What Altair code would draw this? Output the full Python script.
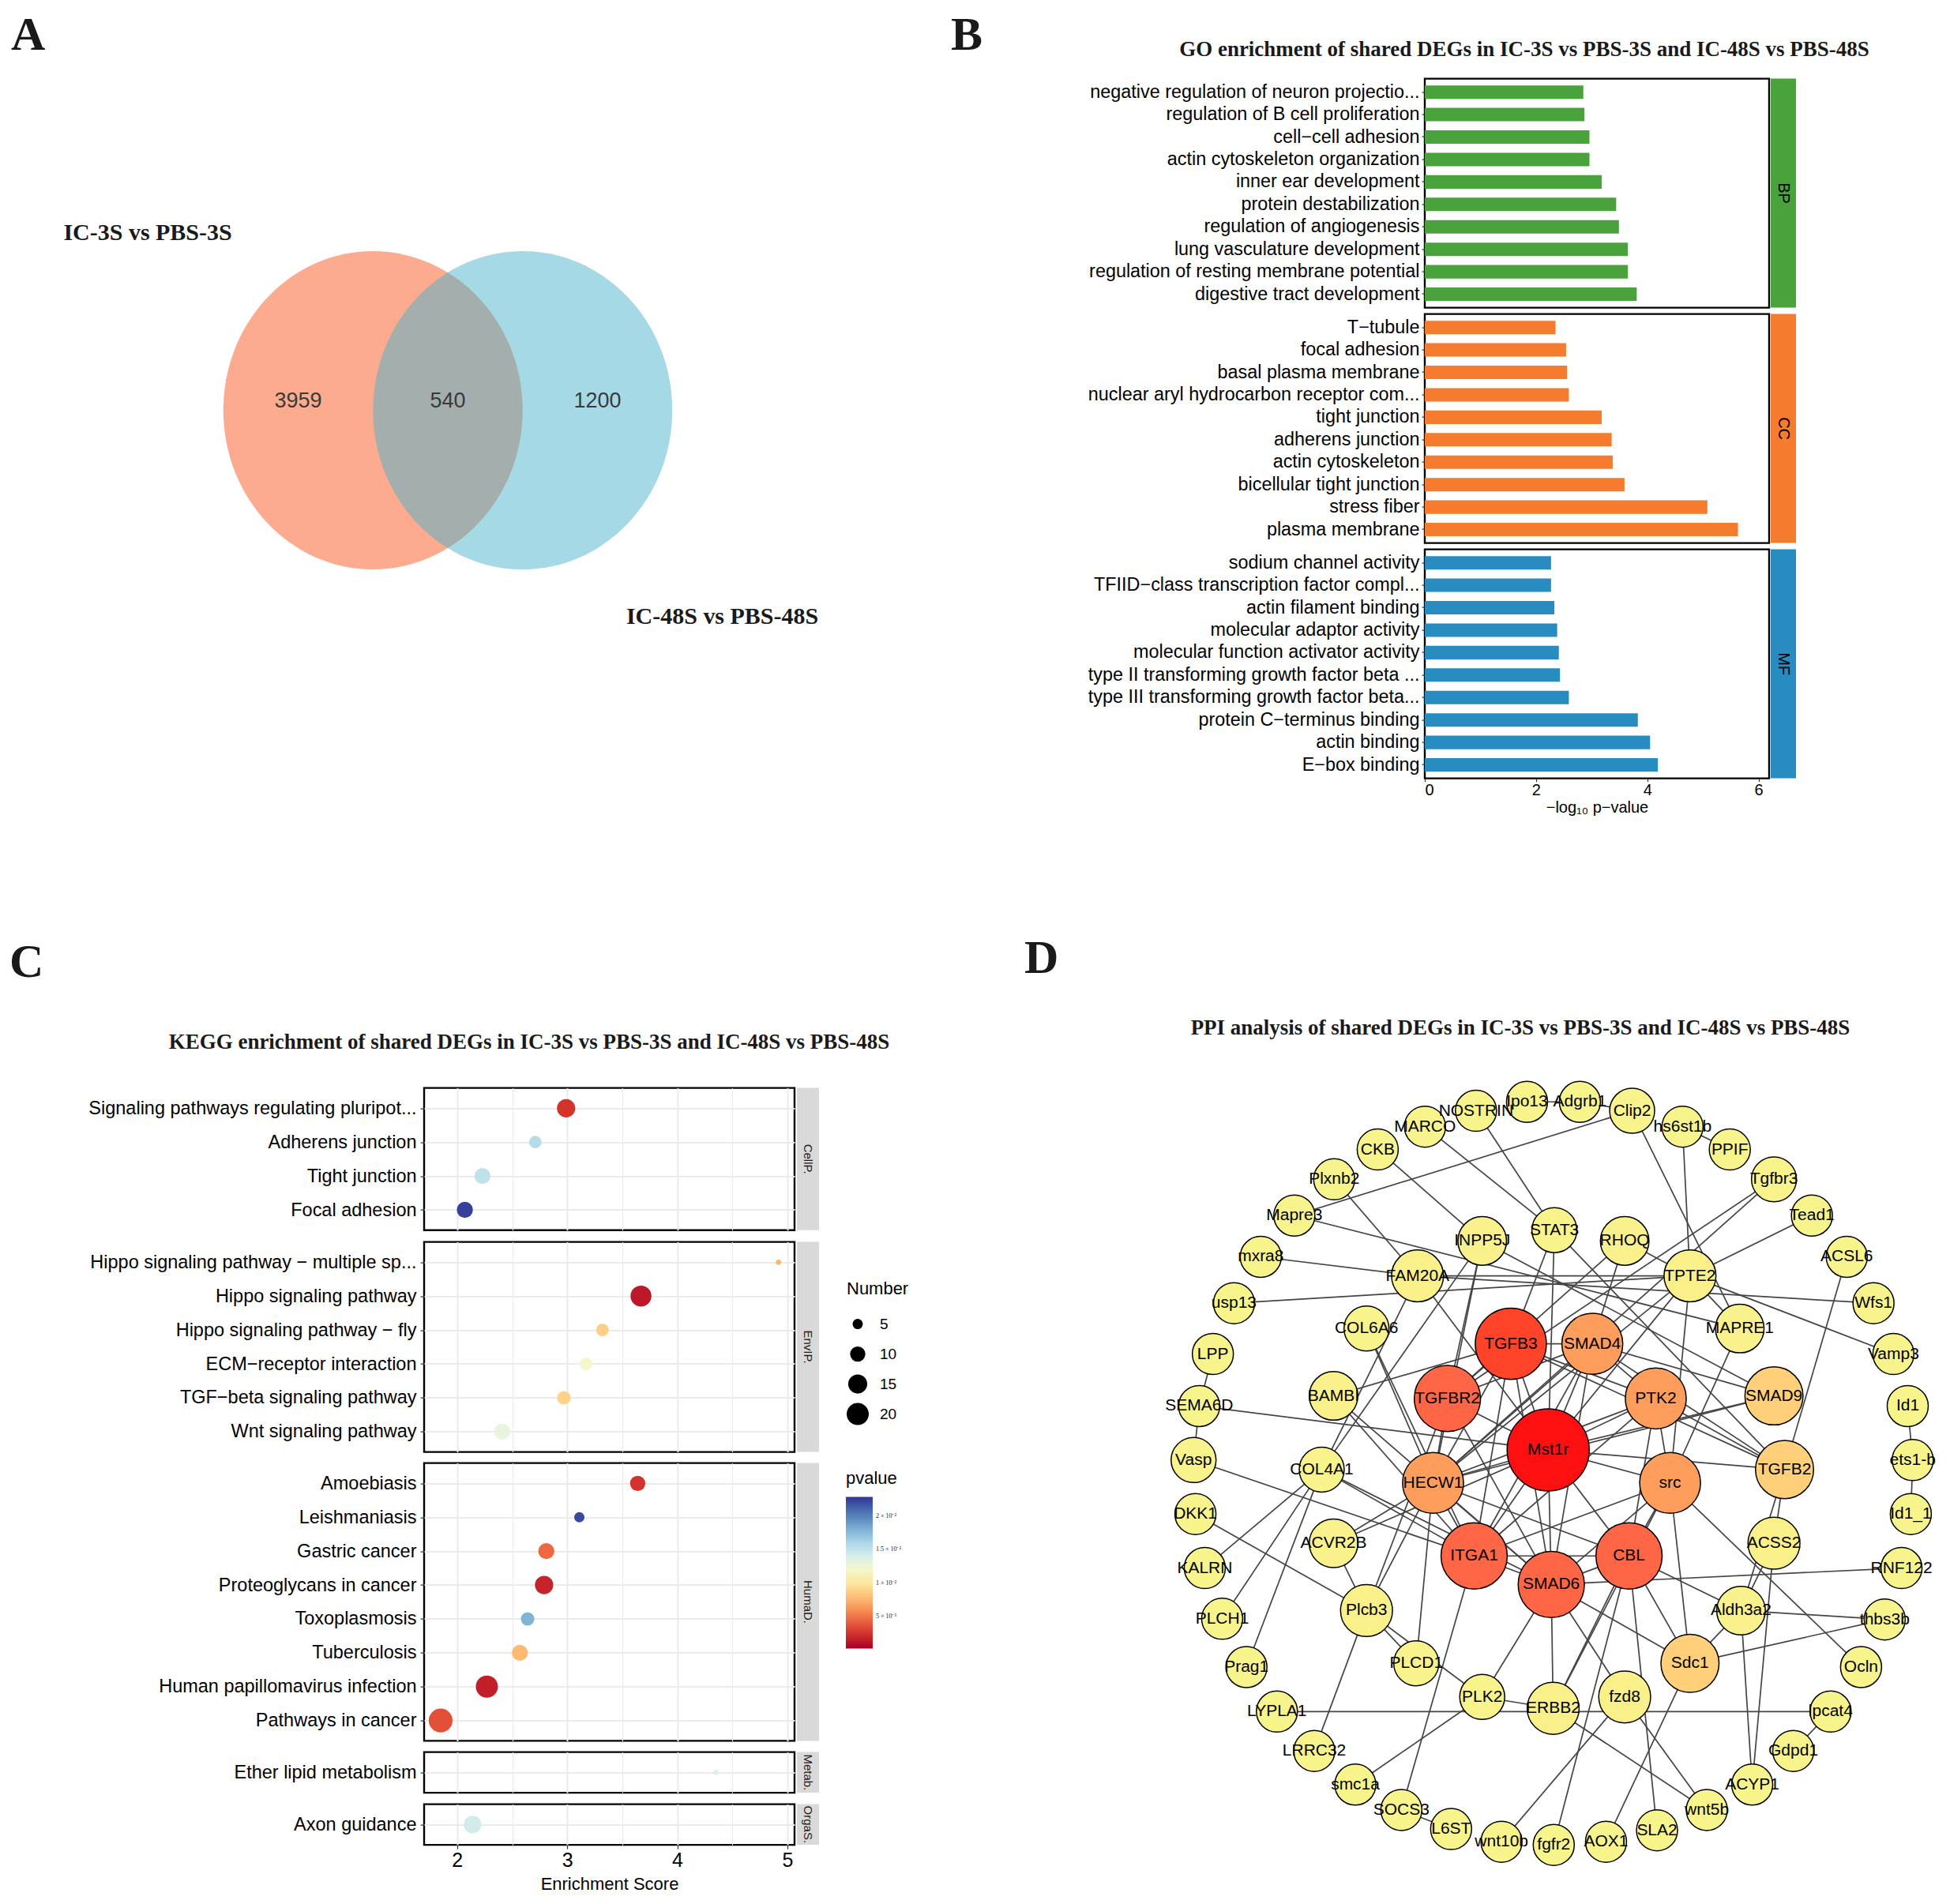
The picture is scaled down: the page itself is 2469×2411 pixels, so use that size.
import altair as alt
import pandas as pd

SANS = "Liberation Sans"
SERIF = "Liberation Serif"
INK = "#1a1a1a"

# ============================ DATA ============================
# ---- Panel A : Venn diagram
venn_sets = ["IC-3S vs PBS-3S", "IC-48S vs PBS-48S"]
venn_counts = [3959, 540, 1200]            # left only, shared, right only
# Venn geometry in ellipse-radius units
venn_cx = [-0.5, 0.5]
venn_cy = [0.0, 0.0]
venn_count_x = [-1.0, 0.0, 1.0]
venn_count_y = [0.06, 0.06, 0.06]
venn_label_x = [-2.005, 1.834]
venn_label_y = [1.117, -1.295]

# ---- Panel B : GO enrichment (-log10 p)
go_bp_terms = ["negative regulation of neuron projectio...", "regulation of B cell proliferation",
               "cell\u2212cell adhesion", "actin cytoskeleton organization", "inner ear development",
               "protein destabilization", "regulation of angiogenesis", "lung vasculature development",
               "regulation of resting membrane potential", "digestive tract development"]
go_bp_values = [2.85, 2.87, 2.96, 2.96, 3.18, 3.44, 3.49, 3.65, 3.65, 3.81]
go_cc_terms = ["T\u2212tubule", "focal adhesion", "basal plasma membrane",
               "nuclear aryl hydrocarbon receptor com...", "tight junction", "adherens junction",
               "actin cytoskeleton", "bicellular tight junction", "stress fiber", "plasma membrane"]
go_cc_values = [2.35, 2.54, 2.56, 2.59, 3.18, 3.36, 3.38, 3.59, 5.08, 5.63]
go_mf_terms = ["sodium channel activity", "TFIID\u2212class transcription factor compl...",
               "actin filament binding", "molecular adaptor activity",
               "molecular function activator activity", "type II transforming growth factor beta ...",
               "type III transforming growth factor beta...", "protein C\u2212terminus binding",
               "actin binding", "E\u2212box binding"]
go_mf_values = [2.27, 2.27, 2.33, 2.38, 2.41, 2.43, 2.59, 3.83, 4.05, 4.19]
go_onts = ["BP", "CC", "MF"]
go_colors = ["#4AA23C", "#F57B2F", "#298CC0"]

# ---- Panel C : KEGG enrichment
kegg_groups = ["CellP.", "EnvIP.", "HumaD.", "Metab.", "OrgaS."]
kegg_group = ["CellP."] * 4 + ["EnvIP."] * 6 + ["HumaD."] * 8 + ["Metab."] + ["OrgaS."]
kegg_term = ["Signaling pathways regulating pluripot...", "Adherens junction", "Tight junction", "Focal adhesion",
             "Hippo signaling pathway \u2212 multiple sp...", "Hippo signaling pathway",
             "Hippo signaling pathway \u2212 fly", "ECM\u2212receptor interaction",
             "TGF\u2212beta signaling pathway", "Wnt signaling pathway",
             "Amoebiasis", "Leishmaniasis", "Gastric cancer", "Proteoglycans in cancer", "Toxoplasmosis",
             "Tuberculosis", "Human papillomavirus infection", "Pathways in cancer",
             "Ether lipid metabolism", "Axon guidance"]
kegg_score = [2.99, 2.71, 2.23, 2.07,
              4.92, 3.67, 3.32, 3.17, 2.97, 2.41,
              3.64, 3.11, 2.81, 2.79, 2.64, 2.57, 2.27, 1.85,
              4.35, 2.14]
kegg_number = [14, 7, 11, 11,
               2, 18, 7, 7, 8, 11,
               10, 5, 11, 14, 8, 11, 20, 23,
               2, 13]
kegg_pvalue = [0.0025, 0.0156, 0.0152, 0.0225,
               0.0075, 0.0013, 0.0086, 0.0120, 0.0088, 0.0129,
               0.0025, 0.0222, 0.0045, 0.0018, 0.0179, 0.0077, 0.0016, 0.0036,
               0.0138, 0.0143]

# ---- Panel D : PPI network (layout coordinates + degree)
node_name = ["Ipo13", "Adgrb1", "Clip2", "hs6st1b", "PPIF", "Tgfbr3", "Tead1", "ACSL6", "Wfs1", "Vamp3",
             "Id1", "ets1-b", "Id1_1", "RNF122", "thbs3b", "Ocln", "lpcat4", "Gdpd1", "ACYP1", "wnt5b",
             "SLA2", "AOX1", "fgfr2", "wnt10b", "L6ST", "SOCS3", "smc1a", "LRRC32", "LYPLA1", "Prag1",
             "PLCH1", "KALRN", "DKK1", "Vasp", "SEMA6D", "LPP", "usp13", "mxra8", "Mapre3", "Plxnb2",
             "CKB", "MARCO", "NOSTRIN",
             "STAT3", "RHOQ", "TPTE2", "MAPRE1", "SMAD9", "TGFB2", "ACSS2", "Aldh3a2", "Sdc1", "fzd8",
             "ERBB2", "PLK2", "PLCD1", "Plcb3", "ACVR2B", "COL4A1", "BAMBI", "COL6A6", "FAM20A", "INPP5J",
             "TGFB3", "SMAD4", "PTK2", "src", "CBL", "SMAD6", "ITGA1", "HECW1", "TGFBR2", "Mst1r"]
node_x = [888, 973, 1057, 1138, 1214, 1285, 1346, 1402, 1445, 1477,
          1500, 1508, 1505, 1490, 1463, 1425, 1376, 1316, 1250, 1177,
          1097, 1015, 931, 847, 766, 686, 612, 546, 486, 437,
          398, 370, 355, 352, 361, 383, 417, 460, 514, 578,
          648, 724, 806,
          932, 1045, 1150, 1230, 1285, 1302, 1285, 1232, 1150, 1045,
          930, 816, 710, 630, 577, 558, 577, 630, 712, 816,
          862, 993, 1095, 1118, 1052, 927, 803, 737, 760, 922]
node_y = [303, 303, 317, 342, 378, 425, 482, 547, 620, 700,
          782, 867, 952, 1037, 1118, 1193, 1263, 1325, 1378, 1418,
          1450, 1468, 1473, 1468, 1448, 1418, 1378, 1325, 1263, 1193,
          1117, 1037, 952, 867, 782, 700, 620, 547, 482, 425,
          378, 342, 317,
          505, 522, 577, 660, 766, 882, 998, 1104, 1187, 1240,
          1258, 1240, 1187, 1104, 998, 882, 766, 660, 577, 522,
          684, 684, 770, 903, 1018, 1063, 1018, 903, 770, 851]
node_degree = [1, 1, 2, 1, 1, 2, 1, 1, 1, 1,
               1, 1, 1, 1, 1, 1, 1, 1, 1, 1,
               1, 1, 1, 1, 1, 1, 1, 1, 1, 1,
               1, 1, 1, 2, 1, 1, 1, 1, 1, 1,
               1, 1, 1,
               2, 3, 4, 3, 6, 6, 4, 3, 6, 4,
               4, 2, 2, 4, 3, 2, 3, 2, 4, 3,
               11, 7, 7, 7, 9, 9, 9, 7, 9, 16]
edges = [
    ("Ipo13", "Adgrb1"), ("Adgrb1", "Clip2"), ("Clip2", "Mapre3"), ("Clip2", "MAPRE1"),
    ("hs6st1b", "PPIF"), ("hs6st1b", "TPTE2"), ("NOSTRIN", "STAT3"), ("MARCO", "STAT3"),
    ("CKB", "INPP5J"), ("Plxnb2", "FAM20A"), ("Mapre3", "MAPRE1"), ("mxra8", "FAM20A"),
    ("usp13", "TPTE2"), ("LPP", "SEMA6D"), ("SEMA6D", "Vasp"), ("SEMA6D", "Mst1r"),
    ("Vasp", "ITGA1"), ("DKK1", "Plcb3"), ("KALRN", "COL4A1"), ("PLCH1", "COL4A1"),
    ("Prag1", "COL4A1"), ("LYPLA1", "lpcat4"), ("LRRC32", "Plcb3"), ("smc1a", "PLK2"),
    ("SOCS3", "ITGA1"), ("SOCS3", "L6ST"), ("wnt10b", "fzd8"), ("fgfr2", "CBL"),
    ("AOX1", "Sdc1"), ("SLA2", "CBL"), ("wnt5b", "fzd8"), ("wnt5b", "ERBB2"),
    ("ACYP1", "Aldh3a2"), ("ACYP1", "ACSS2"), ("Gdpd1", "lpcat4"), ("Ocln", "src"),
    ("thbs3b", "Sdc1"), ("thbs3b", "Aldh3a2"), ("RNF122", "SMAD6"), ("Id1", "ets1-b"),
    ("ets1-b", "Id1_1"), ("Vamp3", "TPTE2"), ("Wfs1", "FAM20A"), ("ACSL6", "TGFB2"),
    ("Tead1", "TPTE2"), ("Tgfbr3", "TGFBR2"), ("Tgfbr3", "HECW1"),
    ("FAM20A", "TPTE2"), ("FAM20A", "Mst1r"), ("FAM20A", "COL4A1"), ("INPP5J", "COL4A1"),
    ("INPP5J", "TGFBR2"), ("INPP5J", "HECW1"), ("INPP5J", "SMAD9"), ("STAT3", "TGFB3"),
    ("STAT3", "Mst1r"), ("STAT3", "TGFB2"), ("RHOQ", "TGFBR2"), ("RHOQ", "SMAD4"),
    ("RHOQ", "TPTE2"), ("TPTE2", "HECW1"), ("TPTE2", "Mst1r"), ("TPTE2", "MAPRE1"),
    ("TPTE2", "src"), ("MAPRE1", "src"), ("SMAD9", "SMAD4"), ("SMAD9", "Mst1r"),
    ("SMAD9", "HECW1"), ("TGFB2", "SMAD4"), ("TGFB2", "TGFB3"), ("TGFB2", "PTK2"),
    ("TGFB2", "Mst1r"), ("TGFB2", "ACSS2"), ("ACSS2", "Aldh3a2"), ("Aldh3a2", "TGFB2"),
    ("Aldh3a2", "CBL"), ("Aldh3a2", "Sdc1"), ("Sdc1", "src"), ("Sdc1", "CBL"),
    ("Sdc1", "SMAD6"), ("fzd8", "SMAD6"), ("ERBB2", "SMAD6"), ("ERBB2", "CBL"),
    ("ERBB2", "PLK2"), ("ERBB2", "src"), ("PLK2", "SMAD6"), ("PLK2", "Plcb3"),
    ("PLCD1", "Plcb3"), ("PLCD1", "HECW1"), ("Plcb3", "HECW1"), ("Plcb3", "TGFBR2"),
    ("Plcb3", "ACVR2B"), ("ACVR2B", "HECW1"), ("ACVR2B", "Mst1r"), ("COL4A1", "ITGA1"),
    ("COL4A1", "SMAD6"), ("BAMBI", "TGFB3"), ("BAMBI", "ITGA1"), ("BAMBI", "SMAD6"),
    ("COL6A6", "HECW1"), ("COL6A6", "ITGA1"),
    ("TGFB3", "SMAD4"), ("TGFB3", "TGFBR2"), ("TGFB3", "Mst1r"), ("TGFB3", "HECW1"),
    ("TGFB3", "ITGA1"), ("TGFB3", "SMAD6"), ("TGFB3", "PTK2"), ("TGFBR2", "Mst1r"),
    ("TGFBR2", "HECW1"), ("TGFBR2", "SMAD6"), ("TGFBR2", "SMAD4"), ("SMAD4", "Mst1r"),
    ("SMAD4", "PTK2"), ("SMAD4", "HECW1"), ("SMAD4", "ITGA1"), ("SMAD4", "SMAD6"),
    ("PTK2", "Mst1r"), ("PTK2", "src"), ("PTK2", "CBL"), ("PTK2", "HECW1"),
    ("PTK2", "ITGA1"), ("Mst1r", "HECW1"), ("Mst1r", "ITGA1"), ("Mst1r", "SMAD6"),
    ("Mst1r", "CBL"), ("Mst1r", "src"), ("HECW1", "ITGA1"), ("HECW1", "SMAD6"),
    ("HECW1", "CBL"), ("ITGA1", "SMAD6"), ("ITGA1", "CBL"), ("ITGA1", "src"),
    ("SMAD6", "CBL"), ("SMAD6", "src"), ("CBL", "src"),
]

# ============================ LAYOUT (px) ============================
A_W, A_H = 643, 887
VENN_RX, VENN_RY = 189.5, 201.5
VENN_OX, VENN_OY = 30, 420
B_W, B_H, B_GAP = 436, 290, 8
B_STRIP_W, B_STRIP_OFF = 32, 438
S1 = 624
C_W = 469
C_H = [180.2, 266.0, 351.8, 51.5, 51.5]
C_GAP = 14
C_STRIP_W, C_STRIP_OFF = 28, 472
D_W, D_H = 995, 990
S2 = 923
V = 1278
# conversion of network layout units to px
D_KX, D_KY = 1.2696, 1.2435
D_X0, D_Y0 = 226 * D_KX, 226 * D_KY

# ============================ PANEL A ============================
AX = alt.Scale(domain=[-VENN_OX / VENN_RX, (A_W - VENN_OX) / VENN_RX], nice=False, zero=False)
AY = alt.Scale(domain=[(VENN_OY - A_H) / VENN_RY, VENN_OY / VENN_RY], nice=False, zero=False)
ell_path = "M -0.9404 0 A 0.9404 1 0 1 0 0.9404 0 A 0.9404 1 0 1 0 -0.9404 0 Z"

venn_df = pd.DataFrame({"set": venn_sets, "cx": venn_cx, "cy": venn_cy})
count_df = pd.DataFrame({"n": venn_counts, "x": venn_count_x, "y": venn_count_y})
setlab_df = pd.DataFrame({"set": venn_sets, "x": venn_label_x, "y": venn_label_y})

ellipses = alt.Chart(venn_df).mark_point(
    shape=ell_path, filled=True, fillOpacity=0.5, strokeWidth=0, size=(2 * VENN_RY) ** 2
).encode(
    x=alt.X("cx:Q", scale=AX, axis=None),
    y=alt.Y("cy:Q", scale=AY, axis=None),
    color=alt.Color("set:N", scale=alt.Scale(domain=venn_sets, range=["#FB571F", "#4CB3CB"]), legend=None),
)
counts = alt.Chart(count_df).mark_text(font=SANS, fontSize=27, color="#3a3a3a").encode(
    x=alt.X("x:Q", scale=AX, axis=None), y=alt.Y("y:Q", scale=AY, axis=None), text="n:N")
setlabs = alt.Chart(setlab_df).mark_text(font=SERIF, fontSize=30, fontWeight="bold", color=INK).encode(
    x=alt.X("x:Q", scale=AX, axis=None), y=alt.Y("y:Q", scale=AY, axis=None), text="set:N")


def letter(txt, dx, offset):
    return alt.TitleParams(text=txt, font=SERIF, fontSize=60, fontWeight="bold", color=INK,
                           anchor="start", frame="group", dx=dx, offset=offset)


def ptitle(txt, dx, offset):
    return alt.TitleParams(text=txt, font=SERIF, fontSize=27, fontWeight="bold", color=INK,
                           anchor="middle", frame="group", dx=dx, offset=offset)


A_unit = alt.layer(ellipses, counts, setlabs).properties(
    width=A_W, height=A_H, title=letter("A", -523, 23.4))

# ============================ PANEL B ============================
ont_scale = alt.Scale(domain=go_onts, range=go_colors)
GO_X = alt.Scale(domain=[0, 6.19], nice=False, zero=False)
BORDER = alt.ViewBackground(stroke="black", strokeWidth=2.4)


def go_panel(terms, values, ont, bottom, title=None):
    df = pd.DataFrame({"term": terms, "value": values, "ont": [ont] * len(terms)})
    if bottom:
        xaxis = alt.Axis(values=[0, 2, 4, 6], title="\u2212log\u2081\u2080 p\u2212value", titleFont=SANS,
                         titleFontSize=20, titleFontWeight="normal", titleColor="black", titlePadding=2,
                         labelFont=SANS, labelFontSize=20, labelColor="black", labelPadding=1,
                         tickSize=4, tickColor="#333333", tickWidth=1.2, domain=False, grid=False)
    else:
        xaxis = None
    ch = alt.Chart(df).mark_bar().encode(
        x=alt.X("value:Q", scale=GO_X, axis=xaxis),
        y=alt.Y("term:N", sort=terms, scale=alt.Scale(paddingInner=0.4, paddingOuter=0.3),
                axis=alt.Axis(title=None, labelFont=SANS, labelFontSize=23.4, labelColor="black",
                              labelLimit=0, labelPadding=3, tickSize=4, tickColor="#333333",
                              tickWidth=1.2, domain=False, grid=False, labelOverlap=False)),
        color=alt.Color("ont:N", scale=ont_scale, legend=None),
    )
    if title is not None:
        return ch.properties(width=B_W, height=B_H, view=BORDER, title=title)
    return ch.properties(width=B_W, height=B_H, view=BORDER)


def go_strip(ont, title=None):
    df = pd.DataFrame({"lab": [ont]})
    rect = alt.Chart(df).mark_rect().encode(color=alt.Color("lab:N", scale=ont_scale, legend=None))
    txt = alt.Chart(df).mark_text(angle=90, font=SANS, fontSize=20, color="black").encode(text="lab:N")
    lay = alt.layer(rect, txt)
    if title is not None:
        return lay.properties(width=B_STRIP_W, height=B_H, title=title)
    return lay.properties(width=B_STRIP_W, height=B_H)


go_bars = alt.vconcat(
    go_panel(go_bp_terms, go_bp_values, "BP", False, ptitle(
        "GO enrichment of shared DEGs in IC-3S vs PBS-3S and IC-48S vs PBS-48S", -92, 22.3)),
    go_panel(go_cc_terms, go_cc_values, "CC", False),
    go_panel(go_mf_terms, go_mf_values, "MF", True),
    spacing=B_GAP, bounds="flush")
go_strips = alt.vconcat(
    go_strip("BP", letter("B", 1204 - 2242, 23.4)), go_strip("CC"), go_strip("MF"),
    spacing=B_GAP, bounds="flush")
B_hc = alt.hconcat(go_bars, go_strips, spacing=B_STRIP_OFF, bounds="flush")

# ============================ PANEL C ============================
kegg_df = pd.DataFrame({"group": kegg_group, "term": kegg_term, "score": kegg_score,
                        "number": kegg_number, "pvalue": kegg_pvalue})
KX = alt.Scale(domain=[1.70, 5.065], nice=False, zero=False)
size_scale = alt.Scale(domain=[5, 20], range=[169, 784], zero=False)
col_scale = alt.Scale(scheme="redyellowblue", domain=[0.0002, 0.0229])
GRID_X = [2, 2.5, 3, 3.5, 4, 4.5, 5]
MAJOR = "datum.value % 1 === 0"

size_legend = alt.Legend(
    title="Number", orient="none", legendX=535, legendY=244, values=[5, 10, 15, 20],
    titleFont=SANS, titleFontSize=22, titleFontWeight="normal", titleColor="black", titlePadding=17,
    labelFont=SANS, labelFontSize=19, labelColor="black", labelOffset=14,
    symbolFillColor="black", symbolStrokeColor="black", symbolStrokeWidth=0, symbolOpacity=1,
    symbolType="circle", clipHeight=32, rowPadding=6, padding=0)
col_legend = alt.Legend(
    title="pvalue", orient="none", legendX=534, legendY=484, direction="vertical",
    gradientLength=192, gradientThickness=34, gradientStrokeWidth=0,
    values=[0.005, 0.01, 0.015, 0.02],
    labelExpr="datum.value < 0.007 ? '5 \u00d7 10\u207b\u00b3' : datum.value < 0.012 ? '1 \u00d7 10\u207b\u00b2' : "
              "datum.value < 0.017 ? '1.5 \u00d7 10\u207b\u00b2' : '2 \u00d7 10\u207b\u00b2'",
    labelFont=SERIF, labelFontSize=8, labelColor=INK, labelOffset=4, labelOverlap=False,
    titleFont=SANS, titleFontSize=22, titleFontWeight="normal", titleColor="black", titlePadding=12,
    padding=0)

yaxis_c = alt.Axis(title=None, labelFont=SANS, labelFontSize=23.5, labelColor="black", labelLimit=0,
                   labelPadding=5, tickSize=5, tickColor="#333333", tickWidth=1.2, domain=False,
                   grid=True, gridColor="#ebebeb", gridWidth=2, labelOverlap=False)


def kegg_panel(i, title=None):
    g = kegg_groups[i]
    sub = kegg_df[kegg_df.group == g]
    terms = list(sub.term)
    if i == len(kegg_groups) - 1:
        xaxis = alt.Axis(values=GRID_X, title="Enrichment Score", titleFont=SANS, titleFontSize=22,
                         titleFontWeight="normal", titleColor="black", titlePadding=7,
                         labelExpr="datum.value % 1 === 0 ? format(datum.value, 'd') : ''",
                         labelFont=SANS, labelFontSize=25, labelColor="black", labelPadding=2,
                         tickSize=5, tickColor="#333333", tickWidth=1.2,
                         tickOpacity={"condition": {"test": MAJOR, "value": 1}, "value": 0},
                         domain=False, grid=True, gridColor="#ebebeb",
                         gridWidth={"condition": {"test": MAJOR, "value": 2}, "value": 1.1},
                         labelOverlap=False)
    else:
        xaxis = alt.Axis(values=GRID_X, labels=False, ticks=False, domain=False, title=None, grid=True,
                         gridColor="#ebebeb",
                         gridWidth={"condition": {"test": MAJOR, "value": 2}, "value": 1.1})
    ch = alt.Chart(sub).mark_circle(opacity=1).encode(
        x=alt.X("score:Q", scale=KX, axis=xaxis),
        y=alt.Y("term:N", sort=terms, scale=alt.Scale(type="point", padding=0.6), axis=yaxis_c),
        size=alt.Size("number:Q", scale=size_scale, legend=size_legend),
        color=alt.Color("pvalue:Q", scale=col_scale, legend=col_legend),
    )
    if title is not None:
        return ch.properties(width=C_W, height=C_H[i], view=BORDER, title=title)
    return ch.properties(width=C_W, height=C_H[i], view=BORDER)


def kegg_strip(i, title=None):
    df = pd.DataFrame({"lab": [kegg_groups[i]]})
    rect = alt.Chart(df).mark_rect(color="#d9d9d9")
    rect = rect.encode(opacity=alt.value(1))
    txt = alt.Chart(df).mark_text(angle=90, font=SANS, fontSize=15, color=INK).encode(text="lab:N")
    lay = alt.layer(rect, txt)
    if title is not None:
        return lay.properties(width=C_STRIP_W, height=C_H[i], title=title)
    return lay.properties(width=C_STRIP_W, height=C_H[i])


kegg_points = alt.vconcat(
    *[kegg_panel(i, ptitle("KEGG enrichment of shared DEGs in IC-3S vs PBS-3S and IC-48S vs PBS-48S",
                           -101.5, 43.3) if i == 0 else None) for i in range(5)],
    spacing=C_GAP, bounds="flush")
kegg_strips = alt.vconcat(
    *[kegg_strip(i, letter("C", 12 - 1009, 127.4) if i == 0 else None) for i in range(5)],
    spacing=C_GAP, bounds="flush")
C_hc = alt.hconcat(kegg_points, kegg_strips, spacing=C_STRIP_OFF, bounds="flush")

# ============================ PANEL D ============================
nodes_df = pd.DataFrame({"name": node_name, "x": node_x, "y": node_y, "degree": node_degree})
pos = {n: (x, y) for n, x, y in zip(node_name, node_x, node_y)}
edges_df = pd.DataFrame({
    "x": [pos[a][0] for a, b in edges], "y": [pos[a][1] for a, b in edges],
    "x2": [pos[b][0] for a, b in edges], "y2": [pos[b][1] for a, b in edges]})

DXS = alt.Scale(domain=[D_X0, D_X0 + D_W * D_KX], nice=False, zero=False)
DYS = alt.Scale(domain=[D_Y0, D_Y0 + D_H * D_KY], nice=False, zero=False, reverse=True)

edge_layer = alt.Chart(edges_df).mark_rule(color="#454545", strokeWidth=1.7).encode(
    x=alt.X("x:Q", scale=DXS, axis=None), y=alt.Y("y:Q", scale=DYS, axis=None), x2="x2:Q", y2="y2:Q")
node_layer = alt.Chart(nodes_df).mark_circle(opacity=1, stroke="black", strokeWidth=1.5).encode(
    x=alt.X("x:Q", scale=DXS, axis=None), y=alt.Y("y:Q", scale=DYS, axis=None),
    size=alt.Size("degree:Q", scale=alt.Scale(domain=[1, 16], range=[2704, 10816], zero=False), legend=None),
    color=alt.Color("degree:Q", scale=alt.Scale(
        domain=[1, 4, 6, 7, 9, 11, 16],
        range=["#F8F48C", "#F9F08A", "#FFCF7A", "#FF9D5C", "#FF6646", "#FF4429", "#FF1010"]), legend=None))
label_layer = alt.Chart(nodes_df).mark_text(font=SANS, fontSize=21, color="black").encode(
    x=alt.X("x:Q", scale=DXS, axis=None), y=alt.Y("y:Q", scale=DYS, axis=None), text="name:N")

D_unit = alt.layer(edge_layer, node_layer, label_layer).properties(
    width=D_W, height=D_H,
    title=ptitle("PPI analysis of shared DEGs in IC-3S vs PBS-3S and IC-48S vs PBS-48S", -32.5, 50.2))
D_vc = alt.vconcat(D_unit, bounds="flush", title=letter("D", 1297 - 1460, 43.1))

# ============================ ASSEMBLY ============================
row1 = alt.hconcat(A_unit, B_hc, spacing=S1, bounds="flush").resolve_scale(
    color="independent", size="independent")
row2 = alt.hconcat(C_hc, D_vc, spacing=S2, bounds="flush").resolve_scale(
    color="independent", size="independent")
chart = alt.vconcat(row1, row2, spacing=V, bounds="flush").resolve_scale(
    color="independent", size="independent"
).properties(
    padding={"left": 4, "top": 6.6, "right": 0, "bottom": 0}, background="white"
).configure_view(stroke=None)

chart.save("out.html", embed_options={"renderer": "svg", "actions": False})
